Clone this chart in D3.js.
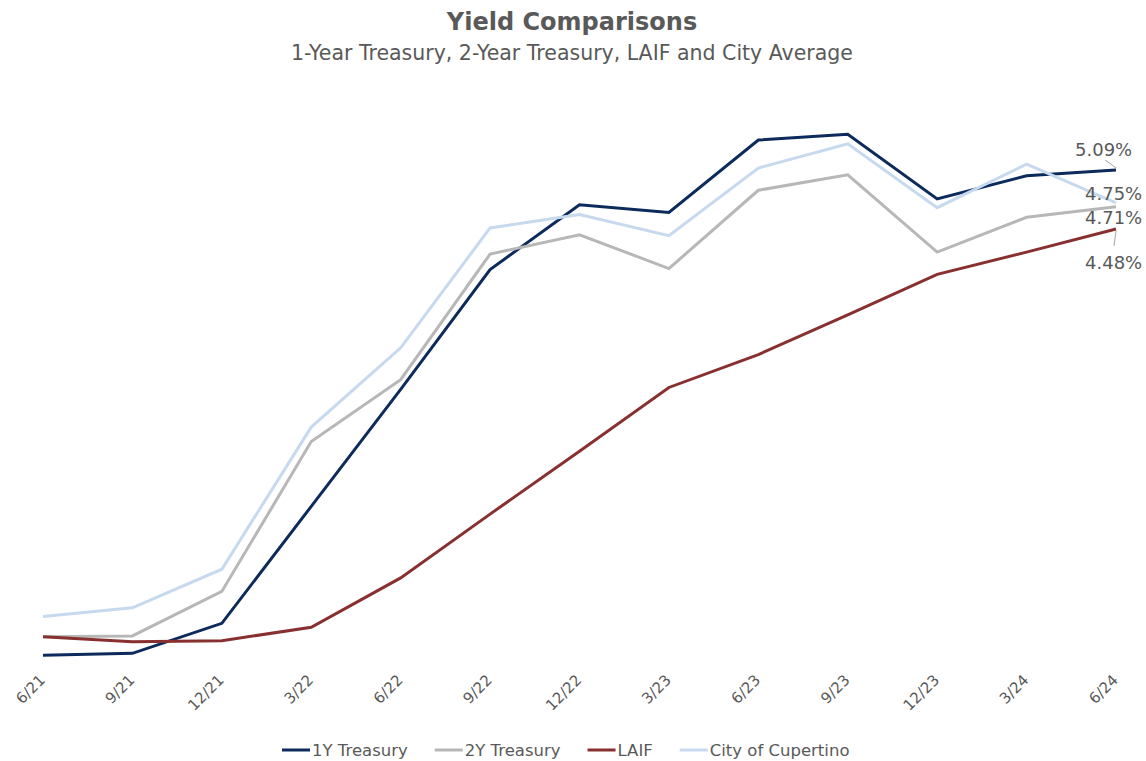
<!DOCTYPE html>
<html>
<head>
  <title>Yield Comparisons</title>
  <style>
    body { margin: 0; background: #fff; }
    text { font-family: "DejaVu Sans", sans-serif; fill: #595959; }
  </style>
</head>
<body>
  <script src="https://d3js.org/d3.v7.min.js"></script>
  <script>
    // quarter end labels
    const quarters = ["6/21", "9/21", "12/21", "3/22", "6/22", "9/22", "12/22", "3/23", "6/23", "9/23", "12/23", "3/24", "6/24"];

    // yields in percent
    const treasury1Y = [0.07, 0.09, 0.40, 1.61, 2.82, 4.06, 4.73, 4.65, 5.40, 5.46, 4.79, 5.03, 5.09];
    const treasury2Y = [0.26, 0.27, 0.73, 2.28, 2.92, 4.22, 4.42, 4.07, 4.88, 5.04, 4.24, 4.60, 4.71];
    const laif       = [0.26, 0.21, 0.22, 0.36, 0.87, 1.53, 2.18, 2.84, 3.18, 3.59, 4.01, 4.24, 4.48];
    const cupertino  = [0.47, 0.56, 0.96, 2.43, 3.25, 4.49, 4.63, 4.41, 5.11, 5.36, 4.70, 5.15, 4.75];

    const seriesNames = ["1Y Treasury", "2Y Treasury", "LAIF", "City of Cupertino"];
    const seriesColors = ["#0c2a5b", "#b7b7b7", "#88302f", "#c6d9ee"];

    const series = [treasury1Y, treasury2Y, laif, cupertino].map(function(vals, i) {
      return { name: seriesNames[i], color: seriesColors[i], values: vals };
    });

    const width = 1146;
    const height = 761;

    const svg = d3.select('body')
      .append('svg')
      .attr('width', width)
      .attr('height', height);

    const x = d3.scalePoint()
      .domain(quarters)
      .range([43, 1116]);

    const y = d3.scaleLinear()
      .domain([0, 6])
      .range([662, 82]);

    // titles
    svg.append('text')
      .attr('x', 572).attr('y', 30)
      .attr('text-anchor', 'middle')
      .style('font-size', '24px')
      .style('font-weight', 'bold')
      .text('Yield Comparisons');

    svg.append('text')
      .attr('x', 572).attr('y', 60)
      .attr('text-anchor', 'middle')
      .style('font-size', '20.5px')
      .text('1-Year Treasury, 2-Year Treasury, LAIF and City Average');

    // x axis labels (no axis line in the original)
    svg.append('g')
      .selectAll('text')
      .data(quarters)
      .enter()
      .append('text')
      .attr('text-anchor', 'end')
      .attr('transform', function(d) { return 'translate(' + (x(d) + 3) + ',681) rotate(-45)'; })
      .style('font-size', '15px')
      .text(function(d) { return d; });

    const line = d3.line()
      .x(function(d, i) { return x(quarters[i]); })
      .y(function(d) { return y(d); });

    svg.append('g')
      .selectAll('path')
      .data(series)
      .enter()
      .append('path')
      .attr('fill', 'none')
      .attr('stroke', function(d) { return d.color; })
      .attr('stroke-width', 3)
      .attr('stroke-linejoin', 'miter')
      .attr('d', function(d) { return line(d.values); });

    // end-of-series value labels
    const last = quarters.length - 1;
    const xEnd = x(quarters[last]);
    const endLabels = [
      { s: 0, dx: -41, dy: -14 },
      { s: 3, dx: -31, dy: -3 },
      { s: 1, dx: -31, dy: 17 },
      { s: 2, dx: -31, dy: 40 }
    ];

    svg.append('g')
      .selectAll('text')
      .data(endLabels)
      .enter()
      .append('text')
      .attr('x', function(d) { return xEnd + d.dx; })
      .attr('y', function(d) { return y(series[d.s].values[last]) + d.dy; })
      .style('font-size', '18px')
      .text(function(d) { return series[d.s].values[last].toFixed(2) + '%'; });

    // leader lines for the outer labels
    const y1Y = y(treasury1Y[last]);
    const yLaif = y(laif[last]);
    svg.append('path')
      .attr('d', 'M' + (xEnd - 11) + ',' + (y1Y - 10) + 'L' + xEnd + ',' + (y1Y - 2))
      .attr('stroke', '#a6a6a6').attr('fill', 'none');
    svg.append('path')
      .attr('d', 'M' + xEnd + ',' + (yLaif + 2) + 'L' + (xEnd - 2) + ',' + (yLaif + 17))
      .attr('stroke', '#a6a6a6').attr('fill', 'none');

    // legend
    const legend = svg.append('g');
    let lx = 282;
    series.forEach(function(s) {
      legend.append('line')
        .attr('x1', lx).attr('x2', lx + 28)
        .attr('y1', 750).attr('y2', 750)
        .attr('stroke', s.color)
        .attr('stroke-width', 3);
      const t = legend.append('text')
        .attr('x', lx + 30).attr('y', 756)
        .style('font-size', '16.5px')
        .text(s.name);
      lx += 30 + t.node().getComputedTextLength() + 27;
    });
  </script>
</body>
</html>
